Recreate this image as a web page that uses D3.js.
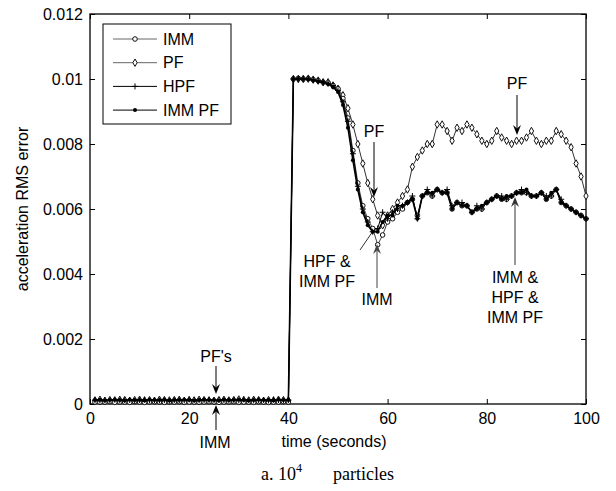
<html>
<head>
<script src="https://d3js.org/d3.v7.min.js"></script>
<style>
  body { margin: 0; background: #fff; }
  svg { font-family: 'Liberation Sans', Arial, sans-serif; }
  .cap { font-family: 'Liberation Serif', 'Times New Roman', serif; }
</style>
</head>
<body>
<svg id="chart" width="616" height="491"></svg>
<script>
// time in seconds, one sample per second
var time = d3.range(1, 101);

var imm = [
  0.00006,0.00005,0.00006,0.00007,0.00005,0.00006,0.00006,0.00005,0.00007,0.00006,
  0.00005,0.00006,0.00007,0.00006,0.00005,0.00006,0.00006,0.00007,0.00005,0.00006,
  0.00006,0.00005,0.00006,0.00007,0.00006,0.00005,0.00006,0.00006,0.00007,0.00005,
  0.00006,0.00006,0.00005,0.00007,0.00006,0.00005,0.00006,0.00006,0.00007,0.00006,
  0.0100,0.01002,0.0100,0.01001,0.00998,0.00995,0.0099,0.00988,0.0098,0.0097,
  0.0094,0.0088,0.0078,0.0068,0.0061,0.0057,0.0054,0.0049,0.0052,0.0056,
  0.0057,0.0059,0.0060,0.0062,0.0063,0.0058,0.0064,0.0065,0.0064,0.0066,
  0.0065,0.0065,0.0060,0.0062,0.0061,0.0061,0.0059,0.0060,0.0060,0.0062,
  0.0063,0.0064,0.0063,0.0063,0.0064,0.0065,0.0065,0.0065,0.0064,0.0064,
  0.0065,0.0063,0.0064,0.0066,0.0062,0.0061,0.0060,0.0059,0.0058,0.0057
];

var pf = [
  0.00011,0.00013,0.00010,0.00012,0.00011,0.00013,0.00012,0.00010,0.00012,0.00013,
  0.00011,0.00012,0.00010,0.00013,0.00012,0.00011,0.00012,0.00013,0.00010,0.00012,
  0.00011,0.00013,0.00012,0.00011,0.00010,0.00012,0.00013,0.00011,0.00012,0.00014,
  0.00012,0.00011,0.00013,0.00012,0.00010,0.00012,0.00011,0.00013,0.00012,0.00011,
  0.0100,0.0100,0.0100,0.01001,0.00998,0.00995,0.0099,0.0099,0.0098,0.0097,
  0.0095,0.0091,0.0086,0.0080,0.0074,0.0068,0.0063,0.0058,0.0055,0.0058,
  0.0060,0.0062,0.0064,0.0066,0.0073,0.0076,0.0078,0.0080,0.0080,0.0086,
  0.0086,0.0084,0.0081,0.0085,0.0084,0.0086,0.0085,0.0083,0.0081,0.0080,
  0.0081,0.0084,0.0082,0.0081,0.0080,0.0081,0.0081,0.0082,0.0084,0.0081,
  0.0080,0.0081,0.0081,0.0084,0.0083,0.0081,0.0079,0.0074,0.0070,0.0064
];

var hpf = [
  0.00012,0.00010,0.00012,0.00011,0.00013,0.00011,0.00012,0.00012,0.00010,0.00012,
  0.00013,0.00011,0.00012,0.00011,0.00012,0.00010,0.00012,0.00012,0.00011,0.00014,
  0.00012,0.00011,0.00012,0.00013,0.00011,0.00012,0.00012,0.00010,0.00012,0.00011,
  0.00014,0.00012,0.00011,0.00012,0.00012,0.00011,0.00013,0.00012,0.00011,0.00012,
  0.0100,0.0100,0.01001,0.0100,0.00997,0.00994,0.0099,0.00985,0.0098,0.00965,
  0.0093,0.0087,0.0077,0.0067,0.0060,0.0056,0.0053,0.0054,0.0059,0.0057,
  0.0059,0.0060,0.0061,0.0062,0.0064,0.0057,0.0064,0.0066,0.0064,0.0066,
  0.0065,0.0066,0.0061,0.0062,0.0062,0.0061,0.0059,0.0061,0.0060,0.0062,
  0.0063,0.0064,0.0064,0.0063,0.0064,0.0065,0.0066,0.0065,0.0064,0.0064,
  0.0065,0.0064,0.0064,0.0066,0.0063,0.0061,0.0060,0.0059,0.0058,0.0057
];

var immpf = [
  0.00012,0.00013,0.00011,0.00012,0.00013,0.00012,0.00011,0.00013,0.00012,0.00012,
  0.00011,0.00013,0.00012,0.00012,0.00013,0.00011,0.00012,0.00012,0.00013,0.00012,
  0.00011,0.00012,0.00013,0.00012,0.00012,0.00011,0.00013,0.00012,0.00012,0.00013,
  0.00012,0.00011,0.00012,0.00013,0.00012,0.00012,0.00011,0.00013,0.00012,0.00012,
  0.0100,0.01001,0.0100,0.0100,0.00996,0.00993,0.0099,0.00985,0.00975,0.0096,
  0.0092,0.0085,0.0075,0.0066,0.0059,0.0055,0.0053,0.0053,0.0056,0.0058,
  0.0058,0.0061,0.0061,0.0062,0.0063,0.0057,0.0064,0.0065,0.0065,0.0066,
  0.0065,0.0065,0.0060,0.0062,0.0061,0.0061,0.0059,0.0060,0.0061,0.0062,
  0.0063,0.0064,0.0063,0.0064,0.0064,0.0065,0.0065,0.0066,0.0064,0.0064,
  0.0065,0.0063,0.0065,0.0066,0.0062,0.0061,0.0060,0.0059,0.0058,0.0057
];

var xTicks = [0, 20, 40, 60, 80, 100];
var yTicks = [0, 0.002, 0.004, 0.006, 0.008, 0.01, 0.012];
var yTickLabels = ["0", "0.002", "0.004", "0.006", "0.008", "0.01", "0.012"];
var seriesNames = ["IMM", "PF", "HPF", "IMM PF"];

var svg = d3.select("#chart");
var plotL = 90, plotR = 586, plotT = 14, plotB = 404;

var x = d3.scaleLinear().domain([0, 100]).range([plotL, plotR]);
var y = d3.scaleLinear().domain([0, 0.012]).range([plotB, plotT]);

// axes box, MATLAB style inward ticks
svg.append("g").attr("transform", "translate(0," + plotB + ")")
  .call(d3.axisBottom(x).tickValues(xTicks).tickSizeInner(-5).tickSizeOuter(0).tickPadding(9))
  .call(function (g) { g.selectAll("text").attr("font-size", 16).attr("fill", "#000"); });
svg.append("g").attr("transform", "translate(0," + plotT + ")")
  .call(d3.axisTop(x).tickValues(xTicks).tickSizeInner(-5).tickSizeOuter(0).tickFormat(""));
svg.append("g").attr("transform", "translate(" + plotL + ",0)")
  .call(d3.axisLeft(y).tickValues(yTicks).tickSizeInner(-5).tickSizeOuter(0).tickPadding(7)
    .tickFormat(function (d, i) { return yTickLabels[i]; }))
  .call(function (g) { g.selectAll("text").attr("font-size", 16).attr("fill", "#000"); });
svg.append("g").attr("transform", "translate(" + plotR + ",0)")
  .call(d3.axisRight(y).tickValues(yTicks).tickSizeInner(-5).tickSizeOuter(0).tickFormat(""));
svg.selectAll(".domain").remove();
svg.append("rect").attr("x", plotL).attr("y", plotT).attr("width", plotR - plotL).attr("height", plotB - plotT)
  .attr("fill", "none").attr("stroke", "#000").attr("stroke-width", 1.3);

svg.append("text").attr("transform", "translate(28," + ((plotT + plotB) / 2) + ") rotate(-90)")
  .attr("text-anchor", "middle").attr("font-size", 16).text("acceleration RMS error");
svg.append("text").attr("x", 334).attr("y", 447).attr("text-anchor", "middle")
  .attr("font-size", 16).text("time (seconds)");

var cap = svg.append("text").attr("class", "cap").attr("y", 480).attr("font-size", 18);
cap.append("tspan").attr("x", 261).text("a. 10");
cap.append("tspan").attr("font-size", 12).attr("dy", -8).text("4");
cap.append("tspan").attr("x", 333).attr("dy", 8).text("particles");

// series
var line = d3.line().x(function (d) { return x(d[0]); }).y(function (d) { return y(d[1]); });
function pairs(v) { return time.map(function (t, i) { return [t, v[i]]; }); }

var styles = [
  { data: imm, color: "#444", width: 1, marker: "circle" },
  { data: pf, color: "#333", width: 1, marker: "diamond" },
  { data: hpf, color: "#000", width: 1, marker: "plus" },
  { data: immpf, color: "#000", width: 1.6, marker: "dot" }
];
var legendColors = ["#666", "#666", "#000", "#000"];
var drawOrder = [1, 0, 2, 3];

function drawMarker(g, kind, cx, cy) {
  if (kind === "circle") {
    g.append("circle").attr("cx", cx).attr("cy", cy).attr("r", 2.3)
      .attr("fill", "#fff").attr("stroke", "#111").attr("stroke-width", 1);
  } else if (kind === "diamond") {
    g.append("path").attr("d", d3.symbol(d3.symbolDiamond, 16)()).attr("transform", "translate(" + cx + "," + cy + ")")
      .attr("fill", "#fff").attr("stroke", "#111").attr("stroke-width", 1);
  } else if (kind === "plus") {
    g.append("path").attr("d", "M" + (cx - 3) + "," + cy + "H" + (cx + 3) + "M" + cx + "," + (cy - 3) + "V" + (cy + 3))
      .attr("stroke", "#000").attr("stroke-width", 1);
  } else {
    g.append("circle").attr("cx", cx).attr("cy", cy).attr("r", 2)
      .attr("fill", "#000");
  }
}

drawOrder.forEach(function (k) {
  var s = styles[k];
  var g = svg.append("g");
  g.append("path").attr("d", line(pairs(s.data))).attr("fill", "none")
    .attr("stroke", s.color).attr("stroke-width", s.width).attr("stroke-linejoin", "round");
  pairs(s.data).forEach(function (p) { drawMarker(g, s.marker, x(p[0]), y(p[1])); });
});

// legend
var lg = svg.append("g");
lg.append("rect").attr("x", 103).attr("y", 24).attr("width", 128).attr("height", 100)
  .attr("fill", "#fff").attr("stroke", "#000").attr("stroke-width", 1);
seriesNames.forEach(function (name, i) {
  var ly = 39 + i * 23.7;
  lg.append("line").attr("x1", 113).attr("x2", 157).attr("y1", ly).attr("y2", ly)
    .attr("stroke", legendColors[i]).attr("stroke-width", 1);
  drawMarker(lg, styles[i].marker, 135, ly);
  lg.append("text").attr("x", 163).attr("y", ly).attr("dy", "0.35em").attr("font-size", 16).text(name);
});

// annotations
function arrow(x1, y1, x2, y2, color) {
  var ang = Math.atan2(y2 - y1, x2 - x1), L = 10, W = 4;
  var bx = x2 - L * Math.cos(ang), by = y2 - L * Math.sin(ang);
  var nx = -Math.sin(ang) * W, ny = Math.cos(ang) * W;
  var mx = x2 - 0.65 * L * Math.cos(ang), my = y2 - 0.65 * L * Math.sin(ang);
  svg.append("line").attr("x1", x1).attr("y1", y1).attr("x2", mx).attr("y2", my)
    .attr("stroke", color || "#000").attr("stroke-width", 1);
  svg.append("path").attr("d", "M" + x2 + "," + y2 + "L" + (bx + nx) + "," + (by + ny) + "L" + mx + "," + my + "L" + (bx - nx) + "," + (by - ny) + "Z")
    .attr("fill", color || "#000");
}
function label(tx, ty, lines) {
  lines.forEach(function (s, i) {
    svg.append("text").attr("x", tx).attr("y", ty + i * 20).attr("text-anchor", "middle")
      .attr("font-size", 16).text(s);
  });
}

label(374, 137, ["PF"]);
arrow(374, 142, 374, 197);
label(517, 89, ["PF"]);
arrow(517, 95, 517, 135);
label(515, 283, ["IMM &", "HPF &", "IMM PF"]);
arrow(515, 265, 515, 197, "#333");
label(327, 267, ["HPF &", "IMM PF"]);
svg.append("line").attr("x1", 360).attr("y1", 250).attr("x2", 373).attr("y2", 231).attr("stroke", "#000").attr("stroke-width", 0.8);
label(377, 305, ["IMM"]);
arrow(377, 288, 377, 244, "#444");
label(216, 362, ["PF's"]);
arrow(216, 366, 216, 394);
label(215, 448, ["IMM"]);
arrow(216, 430, 216, 405);
</script>
</body>
</html>
